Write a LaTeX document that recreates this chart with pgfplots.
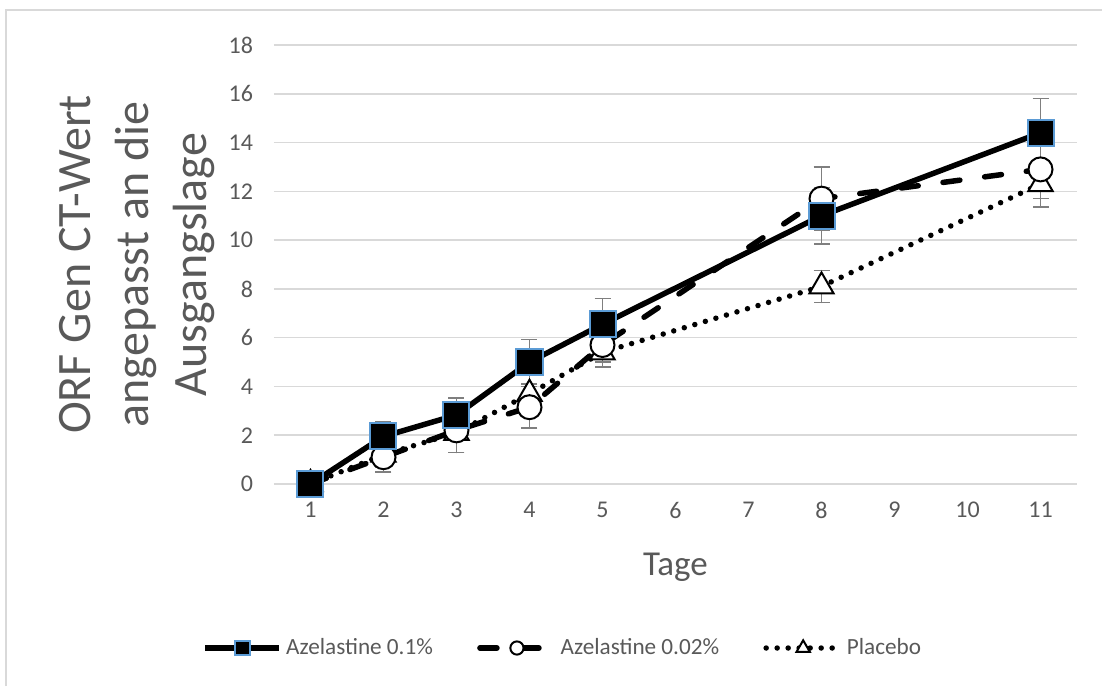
\documentclass[border=0pt]{standalone}
\usepackage{fontspec}
\setmainfont{Carlito}
\usepackage{pgfplots}
\usepackage{pgfplotstable}
\pgfplotsset{compat=1.18}
\definecolor{txt}{HTML}{595959}
\definecolor{gridc}{HTML}{D9D9D9}
\definecolor{errc}{HTML}{7F7F7F}
\definecolor{sqedge}{HTML}{5B9BD5}

\pgfplotstableread{
x y e
1 0 0
2 1.95 0.6
3 2.83 0.7
4 5.0 0.93
5 6.55 1.05
8 11.0 1.16
11 14.4 1.4
}\azA
\pgfplotstableread{
x y e
1 0 0
2 1.1 0.6
3 2.2 0.9
4 3.15 0.85
5 5.7 0.7
8 11.7 1.3
11 12.9 1.2
}\azB
\pgfplotstableread{
x y e
1 0 0
2 1.2 0.5
3 2.1 0.8
4 3.7 0.4
5 5.4 0.6
8 8.1 0.65
11 12.3 0.95
}\plac

\pgfplotsset{
  sA/.style={black, line width=2.75pt, solid,
    mark=square*, mark size=6.5pt, mark options={solid, fill=black, draw=sqedge, line width=1pt}},
  sB/.style={black, line width=2.75pt, dash pattern=on 8.5pt off 12.5pt, line cap=round,
    mark=*, mark size=6pt, mark options={solid, fill=white, draw=black, line width=1pt}},
  sC/.style={black, line width=2.75pt, dash pattern=on 0pt off 5.5pt, line cap=round,
    mark=triangle*, mark size=7pt, mark options={solid, fill=white, draw=black, line width=1pt}},
}

\begin{document}
\begin{tikzpicture}
\useasboundingbox (-137pt,-101pt) rectangle (414pt,242pt);
\draw[gridc, line width=0.75pt] (-134pt,-101pt) -- (-134pt,237pt) -- (414pt,237pt);
\begin{axis}[
  at={(0,0)}, anchor=south west,
  scale only axis, width=401.5pt, height=219.5pt,
  xmin=0.5, xmax=11.5, ymin=0, ymax=18,
  xtick={1,2,3,4,5,6,7,8,9,10,11}, ytick={0,2,4,6,8,10,12,14,16,18},
  axis line style={draw=none},
  major tick length=0pt,
  ymajorgrids, grid style={gridc, line width=0.75pt},
  tick label style={font=\fontsize{12}{14}\selectfont, text=txt},
  /pgf/number format/assume math mode=true,
  xticklabel shift=5.5pt, yticklabel shift=7pt,
  clip=false,
  legend style={at={(axis description cs:0.336,-0.3736)}, anchor=center, draw=none, fill=none,
    legend columns=-1, font=\fontsize{11.6}{14}\selectfont, text=txt},
  legend image code/.code={\path[draw=none,fill=none] (-21.5pt,0pt) -- (0pt,0pt);\draw[mark repeat=2,mark phase=2,#1, every mark/.append style={scale=0.55}] plot coordinates {(0pt,0pt) (18.5pt,0pt) (37pt,0pt)};},
  error bars/y dir=both, error bars/y explicit,
  error bars/error bar style={errc, line width=0.75pt, solid},
  error bars/error mark options={errc, rotate=90, mark size=4pt, line width=0.75pt, solid},
]
\addlegendimage{sA}\addlegendentry{Azelastine 0.1\%}
\addlegendimage{sB}\addlegendentry{Azelastine 0.02\%}
\addlegendimage{sC}\addlegendentry{Placebo}
\addplot[sC, forget plot] table[x=x, y=y, y error=e] {\plac};
\addplot[sB, forget plot] table[x=x, y=y, y error=e] {\azB};
\addplot[sA, forget plot] table[x=x, y=y, y error=e] {\azA};
\node[rotate=90, align=center, font=\fontsize{24}{29}\selectfont, text=txt] at (axis description cs:-0.1706,0.5) {ORF Gen CT-Wert\\angepasst an die\\Ausgangslage};
\node[anchor=base, font=\fontsize{17.5}{21}\selectfont, text=txt] at (axis description cs:0.5,-0.2073) {Tage};
\end{axis}
\end{tikzpicture}
\end{document}
